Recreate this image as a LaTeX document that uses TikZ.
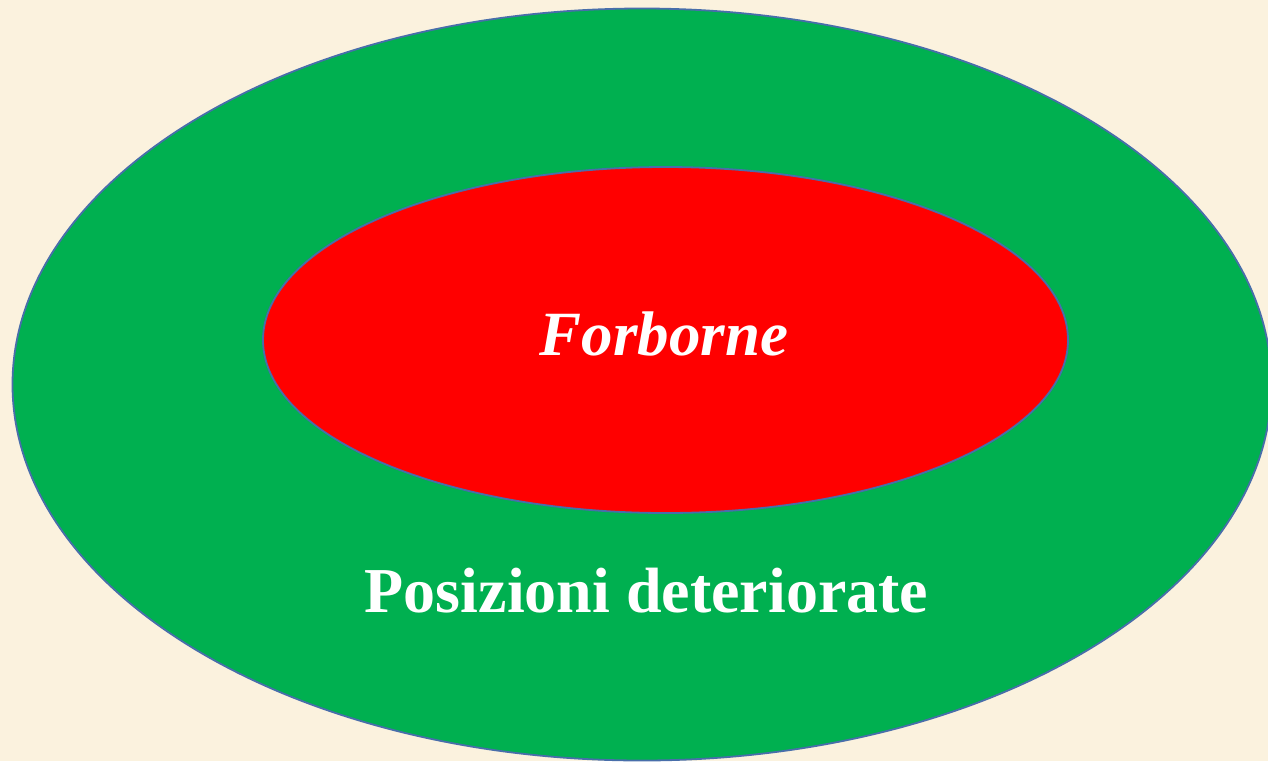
\documentclass[tikz,border=0pt]{standalone}
\usepackage{fontspec}
\setmainfont{Liberation Serif}
\definecolor{bg}{RGB}{251,242,222}
\definecolor{grn}{RGB}{0,176,80}
\definecolor{rd}{RGB}{255,0,0}
\definecolor{edge}{RGB}{72,110,170}
\tikzset{
  ring/.style={draw=edge, line width=1.8pt},
  lbl/.style={text=white, font=\bfseries, anchor=base, inner sep=0pt}
}
\begin{document}
\begin{tikzpicture}[x=1pt,y=-1pt]
\fill[bg] (0,0) rectangle (1268,761);
\useasboundingbox (0,0) rectangle (1268,761);
\begin{scope}
\clip (0,0) rectangle (1268,761);
\path[ring, fill=grn] (642,384.5) ellipse [x radius=629.5, y radius=376];
\end{scope}
\path[ring, fill=rd] (665.5,340) ellipse [x radius=402.5, y radius=173];
\node[lbl, font=\bfseries\itshape\fontsize{63}{70}\selectfont] (inner) at (664,355) {Forborne};
\node[lbl, font=\bfseries\fontsize{64}{72}\selectfont] (outer) at (646.5,612) {Posizioni deteriorate};
\end{tikzpicture}
\end{document}
